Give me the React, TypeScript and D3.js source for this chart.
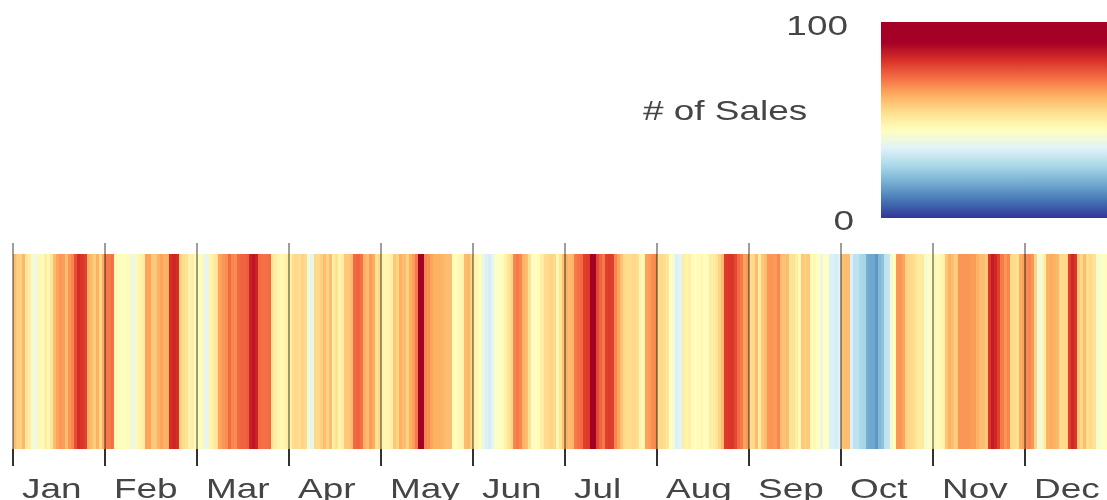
import React from "react";
import * as d3 from "d3";

const months = ["Jan","Feb","Mar","Apr","May","Jun","Jul","Aug","Sep","Oct","Nov","Dec"];
const jan = [60,57,56,61,52,50,42,40,47,46,50,47,52,60,64,66,65,60,66,68,76,81,80,78,62,60,57,62,55,63];
const feb = [70,70,71,47,46,45,45,46,40,40,47,48,50,64,64,58,58,62,64,62,62,81,82,81,56,54,53,48,50,46];
const mar = [46,46,39,38,48,50,52,64,66,67,72,68,67,72,73,73,74,83,85,83,72,71,71,72,52,50,48,47,48,50];
const apr = [49,54,55,54,56,55,40,38,55,54,57,60,56,60,50,53,48,50,58,58,60,72,73,71,62,60,65,63,53,55];
const may = [48,47,48,49,58,56,62,60,56,62,65,70,90,93,68,67,64,62,62,62,61,60,60,46,46,47,48,60,61,56];
const jun = [48,47,46,38,35,34,37,43,44,46,48,52,55,68,70,68,62,60,53,44,45,46,50,54,55,56,55,47,52,59];
const jul = [62,60,61,70,71,72,78,79,90,92,77,73,70,78,79,78,68,64,59,55,54,54,55,54,47,47,64,65,67,68];
const aug = [54,55,54,52,44,42,35,36,50,48,49,46,45,46,47,45,46,50,50,52,56,60,79,80,80,77,72,70,64,66];
const sep = [54,55,60,50,58,60,66,66,65,68,60,59,60,52,53,50,46,58,57,58,46,47,45,39,44,45,35,35,34,36];
const oct = [59,60,60,35,30,30,27,26,18,17,17,14,20,22,30,31,42,45,66,66,64,56,55,54,52,50,51,42,43,44];
const nov = [47,46,47,48,58,62,60,57,66,66,66,66,65,65,62,60,60,58,80,84,82,78,70,66,68,55,54,53,62,64];
const dec = [67,68,66,56,40,42,50,62,63,62,61,54,55,55,78,82,80,58,55,60,54,55,53,42,43,44,45,48,50,46];
const monthValues = [jan,feb,mar,apr,may,jun,jul,aug,sep,oct,nov,dec];

const legendTicks = [0, 100];
const legendTitle = "# of Sales";
const palette = ["#313695","#4575b4","#74add1","#abd9e9","#e0f3f8","#ffffbf","#fee090","#fdae61","#f46d43","#d73027","#a50026"];
const paletteTop = 89.5;

const color = d3.scaleLinear<string>()
  .domain(palette.map((_, i) => (i * paletteTop) / (palette.length - 1)))
  .range(palette)
  .clamp(true);

const W = 1107, H = 500;
const plotLeft = 13, monthW = 92, stripeTop = 254, stripeBottom = 449;
const x = d3.scaleLinear().domain([0, 12]).range([plotLeft, plotLeft + 12 * monthW]);
const legendY = d3.scaleLinear().domain([0, 100]).range([218, 22]);
const font = "'Liberation Sans', Arial, sans-serif";
const textColor = "#444";
const stretch = "scale(1.32,1)";

export default function App() {
  const stops = d3.range(0, 101, 2);
  return (
    <svg width={W} height={H} style={{ position: "fixed", left: 0, top: 0, display: "block", background: "#fff" }}>
      <defs>
        <linearGradient id="lg" x1="0" x2="0" y1="1" y2="0">
          {stops.map(v => <stop key={v} offset={`${v}%`} stopColor={color(v)} />)}
        </linearGradient>
        <filter id="soft" x="-2%" y="-2%" width="104%" height="104%"><feGaussianBlur stdDeviation="0.75 0.4" /></filter>
        <filter id="softT" x="-5%" y="-5%" width="110%" height="110%"><feGaussianBlur stdDeviation="0.35" /></filter>
      </defs>
      <g filter="url(#soft)" shapeRendering="crispEdges">
        {monthValues.map((vals, m) => {
          const s = d3.scaleLinear().domain([0, vals.length]).range([x(m), x(m + 1)]);
          return vals.map((v, i) => (
            <rect key={`${m}-${i}`} x={s(i)} y={stripeTop} width={s(i + 1) - s(i) + 0.4}
              height={stripeBottom - stripeTop} fill={color(v)} />
          ));
        })}
      </g>
      <g filter="url(#softT)">
        {months.map((_, m) => (
          <g key={m}>
            <rect x={x(m) - 1} width={2} y={243} height={stripeBottom - 243} fill="#000" fillOpacity={0.38} />
            <rect x={x(m) - 1} width={2} y={stripeBottom} height={466 - stripeBottom} fill="#333" />
          </g>
        ))}
        {months.map((mn, m) => (
          <text key={mn} transform={`translate(${x(m) + 9},498) ${stretch}`} fontFamily={font} fontSize={28} fill={textColor}>{mn}</text>
        ))}
      </g>
      <rect x={881} y={legendY(100)} width={W - 881} height={legendY(0) - legendY(100)} fill="url(#lg)" />
      <g filter="url(#softT)" fontFamily={font} fill={textColor}>
        <text transform={`translate(848,${legendY(100) + 13}) ${stretch}`} textAnchor="end" fontSize={28}>{legendTicks[1]}</text>
        <text transform={`translate(854,${legendY(0) + 12}) ${stretch}`} textAnchor="end" fontSize={28}>{legendTicks[0]}</text>
        <text transform={`translate(643,120) ${stretch}`} fontSize={28}>{legendTitle}</text>
      </g>
    </svg>
  );
}
